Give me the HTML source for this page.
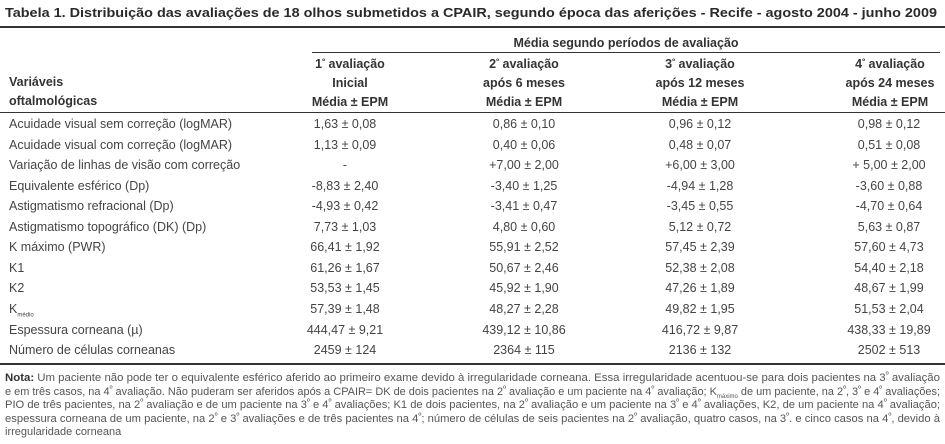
<!DOCTYPE html>
<html><head><meta charset="utf-8"><style>
body{margin:0;width:945px;height:444px;background:#fff;position:relative;overflow:hidden;font-family:"Liberation Sans",sans-serif;color:#444}
.a{position:absolute;white-space:nowrap}
.t{font-weight:bold;color:#2a2a2a;font-size:13px}
.h{font-weight:bold;color:#333;font-size:12.5px;text-align:center}
.l{font-size:12.5px;left:9px}
.v{font-size:12.5px;text-align:center;width:160px}
.line{position:absolute;background:#333}
.n{font-size:11px;left:5px;color:#555;transform-origin:0 0;line-height:13px}
sup{font-size:8px;line-height:0;vertical-align:4px}
sub{font-size:6px;line-height:0}
</style></head><body>
<div class="a t fit" data-w="932" style="left:5px;top:5px;transform-origin:0 0">Tabela 1. Distribuição das avaliações de 18 olhos submetidos a CPAIR, segundo época das aferições - Recife - agosto 2004 - junho 2009</div>
<div class="line" style="left:0;top:26px;width:945px;height:2px"></div>
<div class="a h" style="left:312px;top:36px;width:628px">Média segundo períodos de avaliação</div>
<div class="line" style="left:312px;top:52px;width:628px;height:1px"></div>
<div class="a h" style="left:9px;top:73px;text-align:left;line-height:19px">Variáveis<br>oftalmológicas</div>
<div class="a h" style="left:270px;top:55px;width:160px;line-height:19px">1<sup>º</sup> avaliação<br>Inicial<br>Média ± EPM</div>
<div class="a h" style="left:444px;top:55px;width:160px;line-height:19px">2<sup>º</sup> avaliação<br>após 6 meses<br>Média ± EPM</div>
<div class="a h" style="left:620px;top:55px;width:160px;line-height:19px">3<sup>º</sup> avaliação<br>após 12 meses<br>Média ± EPM</div>
<div class="a h" style="left:810px;top:55px;width:160px;line-height:19px">4<sup>º</sup> avaliação<br>após 24 meses<br>Média ± EPM</div>
<div class="line" style="left:0;top:112px;width:945px;height:1px"></div>
<div id="rows"></div>
<div class="line" style="left:0;top:363px;width:945px;height:2px"></div>
<div class="a n fit" data-w="935" style="top:372px"><b style="color:#333">Nota:</b> Um paciente não pode ter o equivalente esférico aferido ao primeiro exame devido à irregularidade corneana. Essa irregularidade acentuou-se para dois pacientes na 3<sup>º</sup> avaliação</div>
<div class="a n fit" data-w="935" style="top:385.5px">e em três casos, na 4<sup>º</sup> avaliação. Não puderam ser aferidos após a CPAIR= DK de dois pacientes na 2<sup>º</sup> avaliação e um paciente na 4<sup>º</sup> avaliação; K<sub>máximo</sub> de um paciente, na 2<sup>º</sup>, 3<sup>º</sup> e 4<sup>º</sup> avaliações;</div>
<div class="a n fit" data-w="935" style="top:399px">PIO de três pacientes, na 2<sup>º</sup> avaliação e de um paciente na 3<sup>º</sup> e 4<sup>º</sup> avaliações; K1 de dois pacientes, na 2<sup>º</sup> avaliação e um paciente na 3<sup>º</sup> e 4<sup>º</sup> avaliações, K2, de um paciente na 4<sup>º</sup> avaliação;</div>
<div class="a n fit" data-w="935" style="top:412.5px">espessura corneana de um paciente, na 2<sup>º</sup> e 3<sup>º</sup> avaliações e de três pacientes na 4<sup>º</sup>; número de células de seis pacientes na 2<sup>º</sup> avaliação, quatro casos, na 3<sup>º</sup>. e cinco casos na 4<sup>º</sup>, devido à</div>
<div class="a n" style="top:426px">irregularidade corneana</div>
<script>
var d=[
["Acuidade visual sem correção (logMAR)","1,63 ± 0,08","0,86 ± 0,10","0,96 ± 0,12","0,98 ± 0,12"],
["Acuidade visual com correção (logMAR)","1,13 ± 0,09","0,40 ± 0,06","0,48 ± 0,07","0,51 ± 0,08"],
["Variação de linhas de visão com correção","-","+7,00 ± 2,00","+6,00 ± 3,00","+ 5,00 ± 2,00"],
["Equivalente esférico (Dp)","-8,83 ± 2,40","-3,40 ± 1,25","-4,94 ± 1,28","-3,60 ± 0,88"],
["Astigmatismo refracional (Dp)","-4,93 ± 0,42","-3,41 ± 0,47","-3,45 ± 0,55","-4,70 ± 0,64"],
["Astigmatismo topográfico (DK) (Dp)","7,73 ± 1,03","4,80 ± 0,60","5,12 ± 0,72","5,63 ± 0,87"],
["K máximo (PWR)","66,41 ± 1,92","55,91 ± 2,52","57,45 ± 2,39","57,60 ± 4,73"],
["K1","61,26 ± 1,67","50,67 ± 2,46","52,38 ± 2,08","54,40 ± 2,18"],
["K2","53,53 ± 1,45","45,92 ± 1,90","47,26 ± 1,89","48,67 ± 1,99"],
["K<sub>médio</sub>","57,39 ± 1,48","48,27 ± 2,28","49,82 ± 1,95","51,53 ± 2,04"],
["Espessura corneana (µ)","444,47 ± 9,21","439,12 ± 10,86","416,72 ± 9,87","438,33 ± 19,89"],
["Número de células corneanas","2459 ± 124","2364 ± 115","2136 ± 132","2502 ± 513"]];
var c=[345,524,700,889],h="";
d.forEach(function(r,i){var y=117+i*20.55;h+='<div class="a l" style="top:'+y+'px">'+r[0]+'</div>';
for(var j=0;j<4;j++)h+='<div class="a v" style="top:'+y+'px;left:'+(c[j]-80)+'px">'+r[j+1]+'</div>';});
document.getElementById("rows").innerHTML=h;
document.querySelectorAll(".fit").forEach(function(e){var w=e.getBoundingClientRect().width;var t=+e.getAttribute("data-w");e.style.transform="scaleX("+(t/w)+")";});
</script>
</body></html>
